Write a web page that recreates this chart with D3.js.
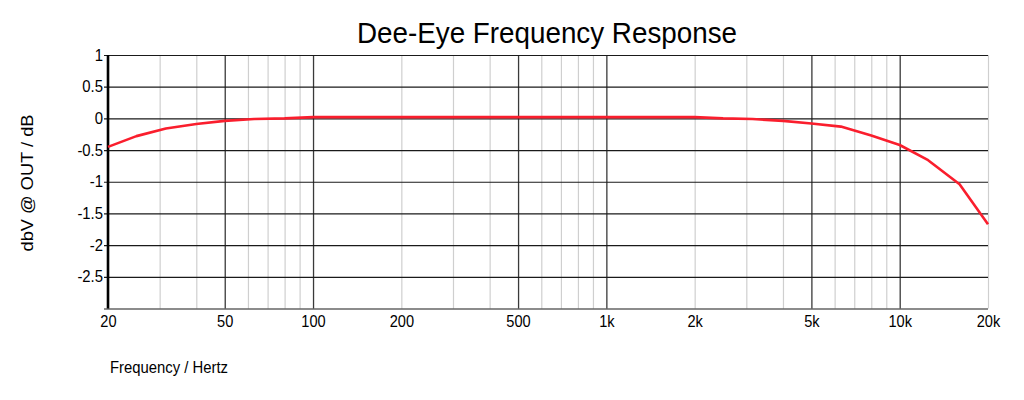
<!DOCTYPE html>
<html>
<head>
<meta charset="utf-8">
<script src="https://cdn.jsdelivr.net/npm/d3@7"></script>
<style>
  body { margin: 0; background: #fff; }
  text { font-family: "Liberation Sans", Arial, sans-serif; fill: #000; }
</style>
</head>
<body>
<div id="chart"></div>
<script>
// measured values (1/3 octave points)
const freqs = [20, 25, 31.5, 40, 50, 63, 80, 100, 125, 160, 200, 250, 315, 400, 500, 630, 800,
               1000, 1250, 1600, 2000, 2500, 3150, 4000, 5000, 6300, 8000, 10000, 12500, 16000, 20000];
const gains = [-0.45, -0.28, -0.16, -0.09, -0.04, -0.01, 0, 0.02, 0.02, 0.02, 0.02, 0.02, 0.02, 0.02, 0.02, 0.02, 0.02,
               0.02, 0.02, 0.02, 0.02, 0, -0.01, -0.04, -0.08, -0.13, -0.27, -0.42, -0.66, -1.04, -1.67];

const xTickValues = [20, 50, 100, 200, 500, 1000, 2000, 5000, 10000, 20000];
const xTickLabels = ["20", "50", "100", "200", "500", "1k", "2k", "5k", "10k", "20k"];
const yTickValues = [1, 0.5, 0, -0.5, -1, -1.5, -2, -2.5];

const width = 1024, height = 400,
      plotLeft = 108, plotRight = 988, plotTop = 55, plotBottom = 308.5;

let svg = d3.select("#chart")
  .append("svg")
  .attr("width", width)
  .attr("height", height);

let x = d3.scaleLog().domain([20, 20000]).range([plotLeft, plotRight]);
let y = d3.scaleLinear().domain([-3, 1]).range([plotBottom, plotTop]);

// every grid frequency 20..20k, 1 and 5 multiples are dark
let gridFreqs = [];
[10, 100, 1000, 10000].forEach(dec => {
  for (let m = 1; m <= 9; m++) {
    let f = dec * m;
    if (f >= 20 && f <= 20000) gridFreqs.push(f);
  }
});
const lead = f => Math.round(f / Math.pow(10, Math.floor(Math.log10(f) + 1e-9)));

// vertical grid
svg.append("g")
  .attr("class", "xgrid")
  .attr("transform", "translate(0," + plotBottom + ")")
  .call(d3.axisBottom(x).tickValues(gridFreqs).tickSize(-(plotBottom - plotTop)).tickFormat(""))
  .call(g => g.select(".domain").remove())
  .call(g => g.selectAll(".tick line")
    .attr("stroke", d => (lead(d) === 1 || lead(d) === 5) ? "#3a3a3a" : "#cfcfcf")
    .attr("stroke-width", d => (lead(d) === 1 || lead(d) === 5) ? 1.3 : 1.2));

// horizontal grid + y labels
svg.append("g")
  .attr("class", "yaxis")
  .attr("transform", "translate(" + plotLeft + ",0)")
  .call(d3.axisLeft(y).tickValues(yTickValues.concat([-3])).tickSize(-(plotRight - plotLeft)).tickSizeOuter(0)
        .tickPadding(6).tickFormat(d => d === -3 ? "" : String(d)))
  .call(g => g.select(".domain").remove())
  .call(g => g.selectAll(".tick line")
    .attr("x1", -4)
    .attr("stroke", "#1a1a1a")
    .attr("stroke-width", 1.2))
  .call(g => g.selectAll(".tick text")
    .attr("font-size", 16)
    .attr("transform", "scale(0.93,1)")
    .attr("x", -5 / 0.93)
    .style("font-family", "'Liberation Sans', Arial, sans-serif"));

// left axis line
svg.append("line")
  .attr("x1", plotLeft).attr("x2", plotLeft)
  .attr("y1", y(1)).attr("y2", y(-3))
  .attr("stroke", "#000")
  .attr("stroke-width", 2.6);

// x labels
svg.append("g")
  .attr("class", "xaxis")
  .attr("transform", "translate(0," + plotBottom + ")")
  .call(d3.axisBottom(x).tickValues(xTickValues).tickSize(0).tickPadding(6)
        .tickFormat((d, i) => xTickLabels[i]))
  .call(g => g.select(".domain").remove())
  .call(g => g.selectAll(".tick text")
    .attr("font-size", 17)
    .attr("transform", "scale(0.86,1)")
    .attr("dy", "0.72em")
    .style("font-family", "'Liberation Sans', Arial, sans-serif"));

// response curve
svg.append("path")
  .datum(freqs.map((f, i) => [f, gains[i]]))
  .attr("fill", "none")
  .attr("stroke", "#fa1e2d")
  .attr("stroke-width", 2.6)
  .attr("stroke-linejoin", "round")
  .attr("d", d3.line().x(d => x(d[0])).y(d => y(d[1])));

// title
svg.append("text")
  .attr("x", 547)
  .attr("y", 43)
  .attr("text-anchor", "middle")
  .attr("font-size", 30)
  .attr("textLength", 380)
  .attr("lengthAdjust", "spacingAndGlyphs")
  .text("Dee-Eye Frequency Response");

// axis titles
svg.append("text")
  .attr("x", 110)
  .attr("y", 373)
  .attr("font-size", 16)
  .attr("textLength", 118)
  .attr("lengthAdjust", "spacingAndGlyphs")
  .text("Frequency / Hertz");

svg.append("text")
  .attr("transform", "translate(33,183) rotate(-90)")
  .attr("text-anchor", "middle")
  .attr("font-size", 17)
  .attr("textLength", 137)
  .attr("lengthAdjust", "spacingAndGlyphs")
  .text("dbV @ OUT / dB");
</script>
</body>
</html>
